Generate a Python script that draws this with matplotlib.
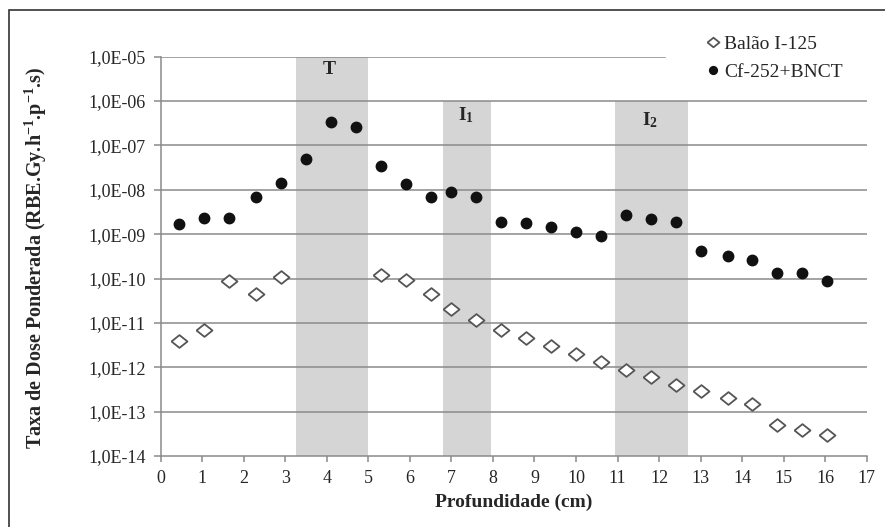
import matplotlib
matplotlib.use('Agg')
import matplotlib.pyplot as plt
from matplotlib.patches import Rectangle

# depth (cm) and dose rate values
depth_i125 = [0.45, 1.05, 1.65, 2.3, 2.9, 5.3, 5.9, 6.5, 7.0, 7.6, 8.2, 8.8,
              9.4, 10.0, 10.6, 11.2, 11.8, 12.4, 13.0, 13.65, 14.25, 14.85,
              15.45, 16.05]
dose_i125 = [3.9e-12, 7.1e-12, 8.9e-11, 4.6e-11, 1.1e-10, 1.2e-10, 9.3e-11,
             4.5e-11, 2.1e-11, 1.15e-11, 7.1e-12, 4.6e-12, 3.0e-12, 1.95e-12,
             1.3e-12, 8.6e-13, 6.1e-13, 3.9e-13, 2.9e-13, 2.0e-13, 1.5e-13,
             5.1e-14, 3.9e-14, 2.9e-14]

depth_cf = [0.45, 1.05, 1.65, 2.3, 2.9, 3.5, 4.1, 4.7, 5.3, 5.9, 6.5, 7.0,
            7.6, 8.2, 8.8, 9.4, 10.0, 10.6, 11.2, 11.8, 12.4, 13.0, 13.65,
            14.25, 14.85, 15.45, 16.05]
dose_cf = [1.67e-9, 2.36e-9, 2.36e-9, 7.0e-9, 1.45e-8, 5.0e-8, 3.3e-7, 2.6e-7,
           3.5e-8, 1.34e-8, 7.0e-9, 8.8e-9, 7.0e-9, 1.88e-9, 1.79e-9, 1.46e-9,
           1.14e-9, 9.2e-10, 2.75e-9, 2.24e-9, 1.88e-9, 4.1e-10, 3.3e-10,
           2.65e-10, 1.31e-10, 1.31e-10, 8.9e-11]

# shaded regions: tumour (T) and interfaces (I1, I2)
band_labels = ['T', r'I$_{\mathbf{1}}$', r'I$_{\mathbf{2}}$']
band_start = [3.25, 6.8, 10.95]
band_end = [5.0, 7.95, 12.7]
band_top = [1e-5, 1e-6, 1e-6]
label_pos = [(4.06, 5.2e-6), (7.36, 4.9e-7), (11.79, 3.7e-7)]

y_ticks = [10.0 ** e for e in range(-14, -4)]
y_ticklabels = ['1,0E-%02d' % (-e) for e in range(-14, -4)]
x_ticks = list(range(0, 18))

plt.rcParams['font.family'] = ['Liberation Serif', 'DejaVu Serif']
plt.rcParams['mathtext.fontset'] = 'custom'
plt.rcParams['mathtext.rm'] = 'Liberation Serif'
plt.rcParams['mathtext.bf'] = 'Liberation Serif:bold'
plt.rcParams['mathtext.it'] = 'Liberation Serif:italic'

TXT = '#262626'
AXC = '#8a8a8a'

# slightly flattened diamond like the one in the source chart
WIDE_DIAMOND = [(-1, 0), (0, 0.8), (1, 0), (0, -0.8), (-1, 0)]


def main():
    fig = plt.figure(figsize=(8.85, 5.27), dpi=100)
    ax = fig.add_axes([0.1816, 0.1347, 0.7977, 0.7577])

    ax.set_yscale('log')
    ax.set_xlim(0, 17)
    ax.set_ylim(1e-14, 1e-5)

    for x0, x1, top in zip(band_start, band_end, band_top):
        ax.fill_between([x0, x1], 1e-14, top, color='#d5d5d5', lw=0, zorder=1)
    for lab, (lx, ly) in zip(band_labels, label_pos):
        ax.text(lx, ly, lab, ha='center', va='center', fontsize=14,
                fontweight='bold', color=TXT, zorder=3)

    # horizontal grid; top line is hidden behind the legend on the right
    for yv in y_ticks[1:]:
        xmax = 0.714 if yv == 1e-5 else 1.0
        ax.axhline(yv, xmin=0, xmax=xmax, color=AXC, lw=1.1, zorder=2)

    ax.plot(depth_i125, dose_i125, ls='none', marker=WIDE_DIAMOND,
            markersize=11.5, markerfacecolor='white',
            markeredgecolor='#555555', markeredgewidth=1.3,
            label='Balão I-125', zorder=4)
    ax.plot(depth_cf, dose_cf, ls='none', marker='o', markersize=7.5,
            color='#111111', label='Cf-252+BNCT', zorder=4)

    ax.set_yticks(y_ticks)
    ax.set_yticklabels(y_ticklabels)
    ax.yaxis.set_minor_locator(plt.NullLocator())
    ax.set_xticks(x_ticks)
    ax.tick_params(axis='both', labelsize=13, colors=AXC, labelcolor=TXT,
                   width=1.1)
    ax.tick_params(axis='y', length=5, pad=6)
    ax.tick_params(axis='x', length=4, pad=6)

    for side in ['top', 'right']:
        ax.spines[side].set_visible(False)
    for side in ['left', 'bottom']:
        ax.spines[side].set_color(AXC)
        ax.spines[side].set_linewidth(1.1)

    ax.set_xlabel('Profundidade (cm)', fontsize=14, fontweight='bold',
                  color=TXT)
    ax.xaxis.set_label_coords(0.5, -0.095)
    ax.set_ylabel(r'Taxa de Dose Ponderada (RBE.Gy.h$^{\mathbf{-1}}$'
                  r'.p$^{\mathbf{-1}}$.s)', fontsize=14.5, fontweight='bold',
                  color=TXT)
    ax.yaxis.set_label_coords(-0.158, 0.496)

    fig.legend(loc='upper left', bbox_to_anchor=(0.786, 0.952),
               frameon=False, fontsize=14, handlelength=0.8,
               handletextpad=0.15, labelspacing=0.55, borderpad=0,
               markerscale=0.75, labelcolor=TXT)

    # thin frame round the whole figure
    fig.patches.append(Rectangle((9 / 885, -0.1), 1.1, 0.1 + 1 - 10 / 527,
                                 transform=fig.transFigure, fill=False,
                                 edgecolor='#333333', lw=1.2))

    fig.savefig('out.png', dpi=100)


if __name__ == '__main__':
    main()
